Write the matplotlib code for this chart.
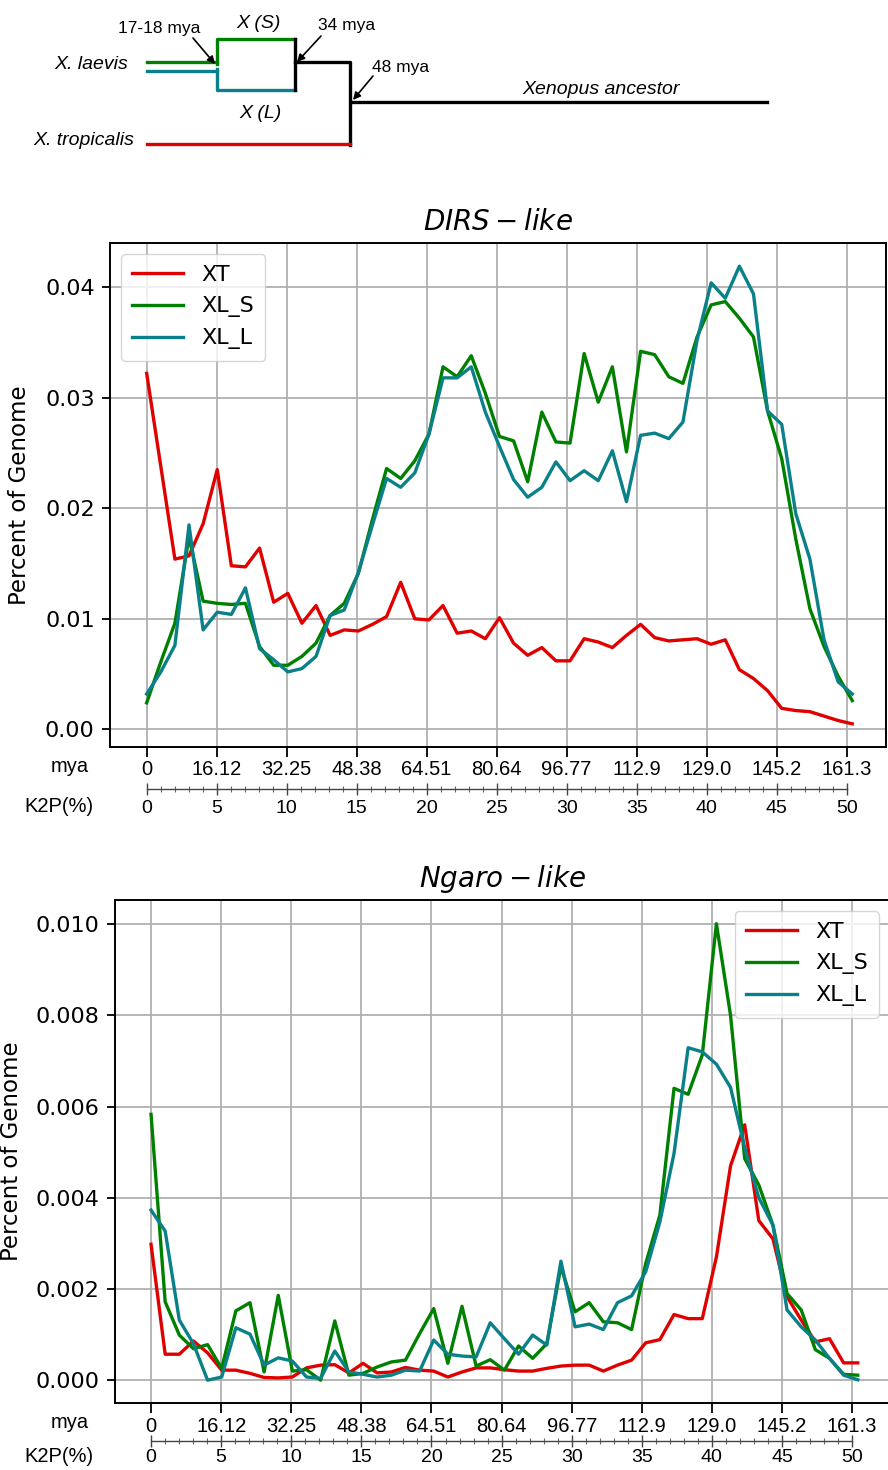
import numpy as np
import matplotlib
matplotlib.use('Agg')
import matplotlib.pyplot as plt
from matplotlib.ticker import FixedLocator

# K2P(%) bin positions, 51 bins
k2p = np.arange(51) * 1.008

k2p_ticks = [0, 5, 10, 15, 20, 25, 30, 35, 40, 45, 50]
mya_labels = ['0', '16.12', '32.25', '48.38', '64.51', '80.64',
              '96.77', '112.9', '129.0', '145.2', '161.3']

# DIRS-like, percent of genome
dirs_xt = [0.0322, 0.0238, 0.0154, 0.0157, 0.0186, 0.0235, 0.0148, 0.0147, 0.0164, 0.0115,
           0.0123, 0.0096, 0.0112, 0.0085, 0.0090, 0.0089, 0.0095, 0.0102, 0.0133, 0.0100,
           0.0099, 0.0112, 0.0087, 0.0089, 0.0082, 0.0101, 0.0078, 0.0067, 0.0074, 0.0062,
           0.0062, 0.0082, 0.0079, 0.0074, 0.0085, 0.0095, 0.0083, 0.0080, 0.0081, 0.0082,
           0.0077, 0.0081, 0.0054, 0.0046, 0.0035, 0.0019, 0.0017, 0.0016, 0.0012, 0.0008,
           0.0005]
dirs_xls = [0.0024, 0.0061, 0.0096, 0.0174, 0.0116, 0.0114, 0.0113, 0.0114, 0.0075, 0.0058,
            0.0058, 0.0066, 0.0078, 0.0103, 0.0114, 0.0141, 0.0190, 0.0236, 0.0227, 0.0243,
            0.0267, 0.0328, 0.0319, 0.0338, 0.0304, 0.0265, 0.0261, 0.0224, 0.0287, 0.0260,
            0.0259, 0.0340, 0.0296, 0.0328, 0.0251, 0.0342, 0.0339, 0.0319, 0.0313, 0.0355,
            0.0384, 0.0387, 0.0372, 0.0355, 0.0288, 0.0245, 0.0172, 0.0109, 0.0075, 0.0048,
            0.0026]
dirs_xll = [0.0032, 0.0052, 0.0076, 0.0185, 0.0090, 0.0106, 0.0104, 0.0128, 0.0073, 0.0063,
            0.0052, 0.0055, 0.0066, 0.0103, 0.0108, 0.0142, 0.0185, 0.0227, 0.0219, 0.0232,
            0.0267, 0.0318, 0.0318, 0.0328, 0.0287, 0.0256, 0.0226, 0.0210, 0.0219, 0.0242,
            0.0225, 0.0234, 0.0225, 0.0252, 0.0206, 0.0266, 0.0268, 0.0263, 0.0278, 0.0352,
            0.0404, 0.0390, 0.0419, 0.0394, 0.0288, 0.0276, 0.0195, 0.0154, 0.0081, 0.0043,
            0.0032]

# Ngaro-like, percent of genome (x 1e-3)
ngaro_xt = [2.98, 0.57, 0.57, 0.86, 0.60, 0.22, 0.22, 0.15, 0.06, 0.05,
            0.07, 0.27, 0.33, 0.34, 0.16, 0.37, 0.16, 0.18, 0.28, 0.22,
            0.20, 0.07, 0.18, 0.27, 0.27, 0.23, 0.20, 0.20, 0.26, 0.31,
            0.33, 0.33, 0.20, 0.33, 0.44, 0.82, 0.89, 1.44, 1.35, 1.35,
            2.70, 4.70, 5.60, 3.50, 3.10, 1.83, 1.32, 0.84, 0.91, 0.38,
            0.38]
ngaro_xls = [5.83, 1.72, 0.99, 0.69, 0.78, 0.26, 1.52, 1.70, 0.18, 1.86,
             0.20, 0.23, 0.00, 1.30, 0.11, 0.15, 0.29, 0.40, 0.44, 1.02,
             1.57, 0.37, 1.62, 0.31, 0.45, 0.22, 0.75, 0.48, 0.80, 2.49,
             1.50, 1.70, 1.28, 1.26, 1.11, 2.56, 3.62, 6.40, 6.27, 7.13,
             10.01, 8.00, 4.86, 4.28, 3.40, 1.90, 1.54, 0.67, 0.48, 0.13,
             0.11]
ngaro_xll = [3.73, 3.27, 1.32, 0.80, 0.00, 0.07, 1.15, 1.01, 0.33, 0.49,
             0.42, 0.07, 0.04, 0.64, 0.18, 0.13, 0.07, 0.11, 0.22, 0.20,
             0.88, 0.57, 0.53, 0.51, 1.26, 0.91, 0.57, 0.99, 0.77, 2.61,
             1.17, 1.23, 1.11, 1.70, 1.85, 2.38, 3.47, 4.97, 7.29, 7.20,
             6.93, 6.42, 5.10, 4.00, 3.40, 1.54, 1.17, 0.88, 0.48, 0.11,
             0.01]
ngaro_xt = np.array(ngaro_xt) * 1e-3
ngaro_xls = np.array(ngaro_xls) * 1e-3
ngaro_xll = np.array(ngaro_xll) * 1e-3

c_xt = '#e00000'
c_xls = '#008000'
c_xll = '#0a8088'
arial = ['Liberation Sans', 'DejaVu Sans']

W, H = 888, 1470
fig = plt.figure(figsize=(W / 100, H / 100), dpi=100)


def px(x0, y0, x1, y1):
    # pixel box -> figure fraction rect
    return [x0 / W, 1 - y1 / H, (x1 - x0) / W, (y1 - y0) / H]


# ---------- schematic tree at the top ----------
tr = fig.add_axes([0, 0, 1, 1], zorder=0)
tr.set_xlim(0, W)
tr.set_ylim(H, 0)
tr.axis('off')
lw_tree = 2.4
tr.plot([147, 217], [62, 62], c=c_xls, lw=lw_tree)
tr.plot([147, 217], [71, 71], c=c_xll, lw=lw_tree)
tr.plot([217, 217, 295], [64, 39, 39], c=c_xls, lw=lw_tree)
tr.plot([217, 217, 295], [69, 90, 90], c=c_xll, lw=lw_tree)
tr.plot([295, 295], [39, 90], c='black', lw=lw_tree)
tr.plot([295, 350, 350], [62, 62, 145], c='black', lw=lw_tree)
tr.plot([147, 350], [144, 144], c=c_xt, lw=lw_tree)
tr.plot([352, 767], [102, 102], c='black', lw=lw_tree)

arr = dict(arrowstyle='-|>', color='black', lw=1.2, mutation_scale=11, shrinkA=0, shrinkB=0)
tr.annotate('', xy=(215, 64), xytext=(193, 38), arrowprops=arr)
tr.annotate('', xy=(297, 62), xytext=(321, 36), arrowprops=arr)
tr.annotate('', xy=(353, 100), xytext=(373, 76), arrowprops=arr)

tr.text(159, 28, '17-18 mya', ha='center', va='center', fontsize=12.5, family=arial)
tr.text(347, 25, '34 mya', ha='center', va='center', fontsize=12.5, family=arial)
tr.text(401, 67, '48 mya', ha='center', va='center', fontsize=12.5, family=arial)
tr.text(259, 23, 'X (S)', ha='center', va='center', fontsize=14, style='italic', family=arial)
tr.text(260, 113, 'X (L)', ha='center', va='center', fontsize=14, style='italic', family=arial)
tr.text(128, 64, 'X. laevis', ha='right', va='center', fontsize=14, style='italic', family=arial)
tr.text(134, 140, 'X. tropicalis', ha='right', va='center', fontsize=14, style='italic', family=arial)
tr.text(601, 89, 'Xenopus ancestor', ha='center', va='center', fontsize=14, style='italic', family=arial)


def panel(rect, xlim, ylim, xt, xls, xll, title, yfmt, yticks, legloc,
          mya_y, line_y, k2p_y, ylab_x, k2p_pad):
    ax = fig.add_axes(px(*rect), zorder=2)
    ax.plot(k2p, xt, c=c_xt, lw=2.4, label='XT')
    ax.plot(k2p, xls, c=c_xls, lw=2.4, label='XL_S')
    ax.plot(k2p, xll, c=c_xll, lw=2.4, label='XL_L')
    ax.set_xlim(*xlim)
    ax.set_ylim(*ylim)
    ax.set_yticks(yticks)
    ax.set_yticklabels([yfmt.format(v) for v in yticks])
    ax.set_xticks(k2p_ticks)
    ax.set_xticklabels(mya_labels, family=arial, fontsize=14.5)
    ax.tick_params(axis='x', length=7, width=1.3, pad=3)
    ax.tick_params(axis='y', labelsize=16, length=6, width=1.3, pad=5)
    ax.grid(True, color='#b0b0b0', lw=1.3)
    ax.set_axisbelow(True)
    for s in ax.spines.values():
        s.set_linewidth(1.4)
    ax.set_title(title, fontsize=20, pad=9)
    ax.set_ylabel('Percent of Genome', fontsize=16.5)
    ax.yaxis.set_label_coords((ylab_x - rect[0]) / (rect[2] - rect[0]), 0.5)
    ax.legend(loc=legloc, fontsize=16, handlelength=2.3, borderpad=0.5)

    fig.text(89 / W, 1 - mya_y / H, 'mya', ha='right', va='center', fontsize=14.5, family=arial)
    fig.text(93 / W, 1 - k2p_y / H, 'K2P(%)', ha='right', va='center', fontsize=14.5, family=arial)

    # second scale with the K2P(%) ticks
    x0, _, x1, _ = rect
    kx = fig.add_axes(px(x0, line_y - 0.5, x1, line_y), zorder=1)
    kx.set_xlim(*xlim)
    kx.set_yticks([])
    kx.patch.set_visible(False)
    for side in ['top', 'left', 'right']:
        kx.spines[side].set_visible(False)
    kx.spines['bottom'].set_bounds(0, 50)
    kx.spines['bottom'].set_color('#444444')
    kx.spines['bottom'].set_linewidth(1.0)
    kx.xaxis.set_major_locator(FixedLocator(k2p_ticks))
    kx.xaxis.set_minor_locator(FixedLocator(list(range(51))))
    kx.tick_params(axis='x', which='major', direction='inout', length=8, width=1.0,
                   color='#444444', labelsize=14, pad=k2p_pad)
    kx.tick_params(axis='x', which='minor', direction='inout', length=4, width=0.8,
                   color='#666666')
    kx.set_xticklabels([str(t) for t in k2p_ticks], family=arial)
    return ax


panel((110, 243, 886, 746.5), (-2.62, 52.81), (-0.00155, 0.0440),
      dirs_xt, dirs_xls, dirs_xll, r'$DIRS-like$', '{:.2f}',
      [0.0, 0.01, 0.02, 0.03, 0.04], 'upper left', 767, 789, 806, 31, 4)

panel((115, 900, 890, 1403), (-2.57, 52.70), (-0.0005, 0.01053),
      ngaro_xt, ngaro_xls, ngaro_xll, r'$Ngaro-like$', '{:.3f}',
      [0.0, 0.002, 0.004, 0.006, 0.008, 0.010], 'upper right', 1422, 1441, 1457, 23, 1.5)

fig.savefig('out.png', dpi=100)
